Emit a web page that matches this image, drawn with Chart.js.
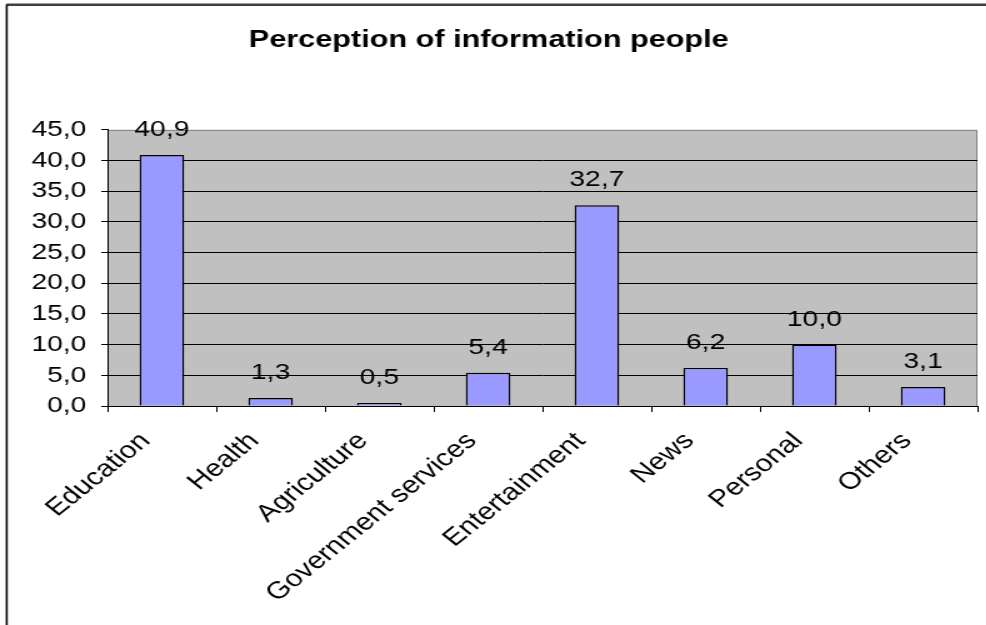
<!DOCTYPE html>
<html>
<head>
<meta charset="utf-8">
<script src="https://cdn.jsdelivr.net/npm/chart.js@4/dist/chart.umd.min.js"></script>
<style>
  html, body { margin: 0; padding: 0; background: #fff; overflow: hidden; }
  /* the chart is drawn narrow and stretched sideways, like the old spreadsheet export */
  #chart { display: block; transform: scaleX(1.25); transform-origin: 0 0; }
</style>
</head>
<body>
<canvas id="chart" width="789" height="625"></canvas>
<script>
const categories = ['Education', 'Health', 'Agriculture', 'Government services',
                    'Entertainment', 'News', 'Personal', 'Others'];
const shares = [40.9, 1.3, 0.5, 5.4, 32.7, 6.2, 10.0, 3.1];
const yTicks = [0, 5, 10, 15, 20, 25, 30, 35, 40, 45];

const FONT = '"Liberation Sans", Arial, sans-serif';
const fmt = v => v.toFixed(1).replace('.', ',');

// grey plot area with a dark grey frame, plus the outer chart frame
const plotBackground = {
    id: 'plotBackground',
    beforeDraw(chart) {
        const { ctx, chartArea: a } = chart;
        ctx.save();
        ctx.fillStyle = '#C0C0C0';
        ctx.fillRect(a.left, a.top, a.right - a.left, a.bottom - a.top);
        ctx.strokeStyle = '#808080';
        ctx.lineWidth = 1;
        ctx.strokeRect(a.left + 0.5, a.top + 0.5, a.right - a.left - 1, a.bottom - a.top);

        ctx.strokeStyle = '#A0A0A0';
        ctx.beginPath();
        ctx.moveTo(5, 3.5);
        ctx.lineTo(chart.width, 3.5);
        ctx.stroke();
        ctx.strokeStyle = '#000';
        ctx.lineWidth = 1.6;
        ctx.beginPath();
        ctx.moveTo(5.4, chart.height);
        ctx.lineTo(5.4, 5);
        ctx.lineTo(chart.width, 5);
        ctx.stroke();
        ctx.restore();
    }
};

// value written above every bar
const valueLabels = {
    id: 'valueLabels',
    afterDatasetsDraw(chart) {
        const { ctx } = chart;
        const meta = chart.getDatasetMeta(0);
        ctx.save();
        ctx.font = '22.5px ' + FONT;
        ctx.fillStyle = '#000';
        ctx.textAlign = 'center';
        ctx.textBaseline = 'alphabetic';
        meta.data.forEach((bar, i) => {
            ctx.fillText(fmt(shares[i]), bar.x, bar.y - 19);
        });
        ctx.restore();
    }
};

new Chart(document.getElementById('chart'), {
    type: 'bar',
    data: {
        labels: categories,
        datasets: [{
            data: shares,
            backgroundColor: '#9999FF',
            borderColor: '#000',
            borderWidth: 1.4,
            barPercentage: 0.41,
            categoryPercentage: 1
        }]
    },
    options: {
        responsive: false,
        animation: false,
        devicePixelRatio: 1,
        layout: { padding: { left: 0, right: 7, top: 0, bottom: 0 } },
        plugins: {
            legend: { display: false },
            tooltip: { enabled: false },
            title: {
                display: true,
                text: 'Perception of information people',
                color: '#000',
                font: { family: FONT, size: 24.5, weight: 'bold' },
                padding: { top: 26, bottom: 74.5 }
            }
        },
        scales: {
            x: {
                grid: {
                    offset: true,
                    drawOnChartArea: false,
                    color: '#000',
                    tickLength: 6
                },
                border: { color: '#000', width: 1 },
                ticks: {
                    color: '#000',
                    font: { family: FONT, size: 24 },
                    minRotation: 45,
                    maxRotation: 45,
                    autoSkip: false,
                    labelOffset: -13,
                    padding: 15
                },
                afterFit(scale) { scale.height = 219; }
            },
            y: {
                min: 0,
                max: 45,
                afterBuildTicks(scale) {
                    scale.ticks = yTicks.map(v => ({ value: v }));
                },
                grid: {
                    color: c => (c.tick && c.tick.value === 45) ? 'rgba(0,0,0,0)' : '#000',
                    tickColor: '#000',
                    lineWidth: 1,
                    tickLength: 5
                },
                border: { color: '#000', width: 1 },
                ticks: {
                    color: '#000',
                    font: { family: FONT, size: 22.5 },
                    padding: 12,
                    callback: v => fmt(v)
                },
                afterFit(scale) { scale.width = 86; }
            }
        }
    },
    plugins: [plotBackground, valueLabels]
});
</script>
</body>
</html>
